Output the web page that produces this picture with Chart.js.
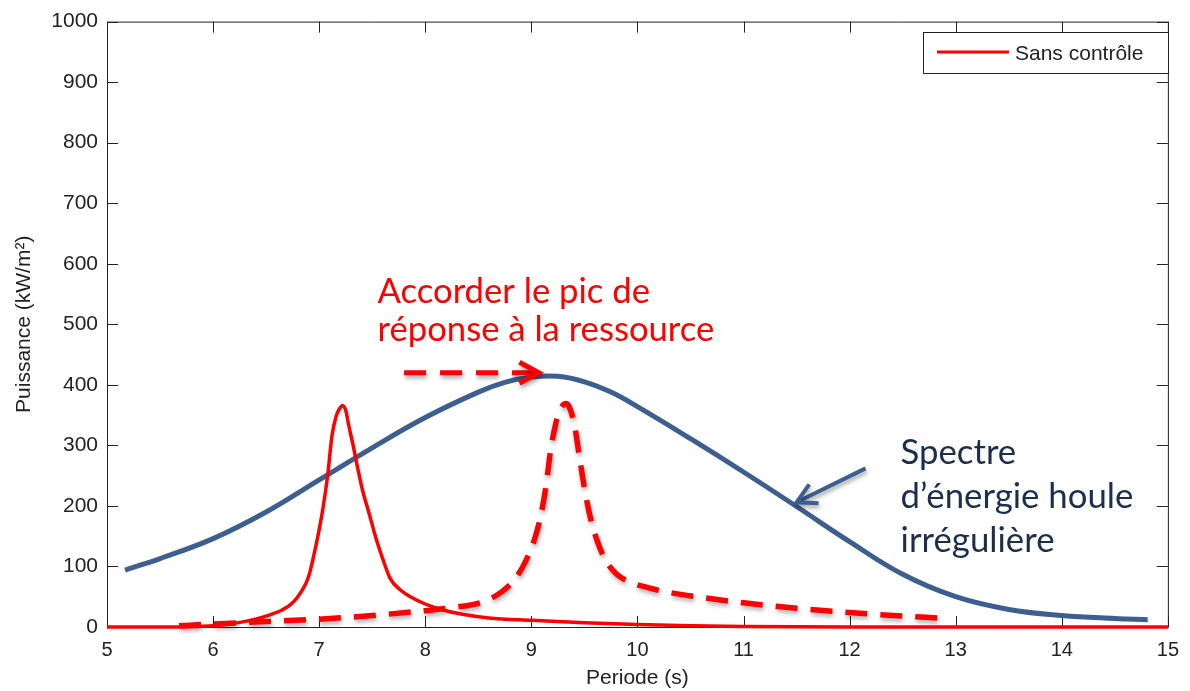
<!DOCTYPE html>
<html lang="fr">
<head>
<meta charset="utf-8">
<title>Puissance en fonction de la période</title>
<script src="https://cdn.jsdelivr.net/npm/chart.js@4/dist/chart.umd.min.js"></script>
<style>
    html, body { margin: 0; padding: 0; background: #fff; }
    #wrap { width: 1190px; height: 691px; }
</style>
</head>
<body>
<div id="wrap"><canvas id="graph" width="1190" height="691"></canvas></div>
<script>
// courbe "Sans contrôle" (rouge plein)
const periodeSansControle = [5.0, 5.5, 6.0, 6.2, 6.4, 6.55, 6.65, 6.75, 6.83, 6.9, 6.97, 7.03, 7.08, 7.12, 7.16, 7.19, 7.22, 7.25, 7.28, 7.32, 7.36, 7.41, 7.47, 7.53, 7.6, 7.67, 7.76, 7.86, 8.0, 8.15, 8.35, 8.6, 9.0, 9.5, 10.0, 10.5, 11.0, 12.0, 13.0, 14.0, 15.0];
const puissanceSansControle = [0, 0, 2, 6, 13, 21, 28, 40, 58, 83, 135, 190, 250, 315, 348, 360, 366, 358, 332, 300, 265, 225, 188, 150, 112, 80, 62, 50, 38, 29, 21, 15, 11, 7, 4, 2, 1, 0, 0, 0, 0];

// réponse accordée (rouge pointillé)
const periodeAccorde = [5.68, 6.0, 6.5, 7.0, 7.5, 8.0, 8.3, 8.55, 8.72, 8.85, 8.95, 9.03, 9.09, 9.14, 9.18, 9.23, 9.28, 9.33, 9.37, 9.41, 9.45, 9.5, 9.56, 9.63, 9.7, 9.8, 9.92, 10.1, 10.3, 10.6, 11.0, 11.5, 12.0, 12.5, 12.83];
const puissanceAccorde = [2, 5, 9, 13, 19, 27, 33, 42, 58, 80, 110, 145, 185, 235, 290, 336, 362, 369, 358, 330, 285, 230, 178, 138, 110, 88, 75, 65, 57, 49, 40, 31, 24, 18, 15];

// spectre d'énergie houle irrégulière (bleu)
const periodeSpectre = [5.17, 5.5, 6.0, 6.5, 7.0, 7.5, 8.0, 8.5, 8.75, 9.0, 9.25, 9.5, 9.75, 10.0, 10.5, 11.0, 11.5, 12.0, 12.5, 13.0, 13.5, 14.0, 14.5, 14.81];
const puissanceSpectre = [94, 113, 146, 190, 243, 296, 346, 388, 404, 413, 414, 405, 388, 364, 311, 256, 199, 141, 87, 50, 29, 19, 14, 12];

const xTicks = [5, 6, 7, 8, 9, 10, 11, 12, 13, 14, 15];
const yTicks = [0, 100, 200, 300, 400, 500, 600, 700, 800, 900, 1000];

const labelLegende = "Sans contrôle";
const texteAccorder = ["Accorder le pic de", "réponse à la ressource"];
const texteSpectre = ["Spectre", "d’énergie houle", "irrégulière"];

const RED = "#ff0000";
const BLUE = "#3d5f8f";
const NAVY = "#1b2f4d";
const AXIS = "#222222";
const TICK_FONT = "'Liberation Sans', Arial, sans-serif";
const NOTE_FONT = "Lato, 'Open Sans', sans-serif";

const points = (xs, ys) => xs.map((x, i) => ({ x, y: ys[i] }));

// fit a text block to a target width by adjusting the font size
const fitFont = (ctx, lines, width) => {
    ctx.font = `40px ${NOTE_FONT}`;
    const widest = Math.max(...lines.map(l => ctx.measureText(l).width));
    return 40 * width / widest;
};

const drawArrow = (ctx, x0, y0, x1, y1, { color, width, dash = [], head = 22, spread = 0.48 }) => {
    const angle = Math.atan2(y1 - y0, x1 - x0);
    ctx.save();
    ctx.shadowColor = "rgba(0,0,0,0.35)";
    ctx.shadowBlur = 4;
    ctx.shadowOffsetX = 1;
    ctx.shadowOffsetY = 3;
    ctx.strokeStyle = color;
    ctx.lineWidth = width;
    ctx.setLineDash(dash);
    ctx.beginPath();
    ctx.moveTo(x0, y0);
    ctx.lineTo(x1 - Math.cos(angle) * 4, y1 - Math.sin(angle) * 4);
    ctx.stroke();
    ctx.setLineDash([]);
    ctx.beginPath();
    ctx.moveTo(x1 - Math.cos(angle - spread) * head, y1 - Math.sin(angle - spread) * head);
    ctx.lineTo(x1, y1);
    ctx.lineTo(x1 - Math.cos(angle + spread) * head, y1 - Math.sin(angle + spread) * head);
    ctx.stroke();
    ctx.restore();
};

// MATLAB style box with inward ticks on the four sides
const frame = {
    id: "frame",
    beforeDatasetsDraw(chart) {
        const { ctx, chartArea: { left, right, top, bottom }, scales: { x, y } } = chart;
        ctx.save();
        ctx.strokeStyle = AXIS;
        ctx.lineWidth = 1;
        ctx.beginPath();
        ctx.rect(left + 0.5, top + 0.5, right - left, bottom - top);
        xTicks.forEach(v => {
            const px = Math.round(x.getPixelForValue(v)) + 0.5;
            ctx.moveTo(px, bottom); ctx.lineTo(px, bottom - 11);
            ctx.moveTo(px, top); ctx.lineTo(px, top + 11);
        });
        yTicks.forEach(v => {
            const py = Math.round(y.getPixelForValue(v)) + 0.5;
            ctx.moveTo(left, py); ctx.lineTo(left + 11, py);
            ctx.moveTo(right, py); ctx.lineTo(right - 11, py);
        });
        ctx.stroke();
        ctx.restore();
    },
    beforeDatasetDraw(chart, args) {
        if (chart.data.datasets[args.index].shadow) {
            const ctx = chart.ctx;
            ctx.save();
            ctx.shadowColor = "rgba(0,0,0,0.3)";
            ctx.shadowBlur = 4;
            ctx.shadowOffsetX = 1;
            ctx.shadowOffsetY = 3;
        }
    },
    afterDatasetDraw(chart, args) {
        if (chart.data.datasets[args.index].shadow) {
            chart.ctx.restore();
        }
    },
    afterDraw(chart) {
        const { ctx, scales: { x, y } } = chart;
        ctx.save();

        // legend box
        const bx = 923, by = 32, bw = 245, bh = 41;
        ctx.fillStyle = "#fff";
        ctx.fillRect(bx, by, bw, bh);
        ctx.strokeStyle = AXIS;
        ctx.lineWidth = 1;
        ctx.strokeRect(bx + 0.5, by + 0.5, bw, bh);
        ctx.strokeStyle = RED;
        ctx.lineWidth = 3;
        ctx.beginPath();
        ctx.moveTo(bx + 14, by + 20);
        ctx.lineTo(bx + 86, by + 20);
        ctx.stroke();
        ctx.fillStyle = AXIS;
        ctx.font = `21px ${TICK_FONT}`;
        ctx.textBaseline = "alphabetic";
        ctx.fillText(labelLegende, bx + 92, by + 28);

        // red note + dashed arrow
        const redSize = fitFont(ctx, texteAccorder, 337);
        ctx.font = `${redSize}px ${NOTE_FONT}`;
        ctx.fillStyle = RED;
        const rx = x.getPixelForValue(7.55), ry = y.getPixelForValue(535);
        texteAccorder.forEach((line, i) => ctx.fillText(line, rx, ry + i * 38));
        drawArrow(ctx, x.getPixelForValue(7.8), y.getPixelForValue(420), x.getPixelForValue(9.07), y.getPixelForValue(420),
            { color: RED, width: 5, dash: [22, 14], head: 22, spread: 0.5 });

        // navy note + arrow
        const navySize = fitFont(ctx, texteSpectre, 233);
        ctx.font = `${navySize}px ${NOTE_FONT}`;
        ctx.fillStyle = NAVY;
        const nx = x.getPixelForValue(12.48), ny = y.getPixelForValue(269);
        texteSpectre.forEach((line, i) => ctx.fillText(line, nx, ny + i * 44));
        drawArrow(ctx, x.getPixelForValue(12.15), y.getPixelForValue(262), x.getPixelForValue(11.5), y.getPixelForValue(206),
            { color: BLUE, width: 4, head: 22, spread: 0.5 });

        ctx.restore();
    },
};

new Chart(document.getElementById("graph"), {
    type: "line",
    data: {
        datasets: [
            {
                label: labelLegende,
                data: points(periodeSansControle, puissanceSansControle),
                borderColor: RED,
                borderWidth: 3.5,
                pointRadius: 0,
                cubicInterpolationMode: "monotone",
                clip: false,
                order: 0,
            },
            {
                label: "Spectre",
                data: points(periodeSpectre, puissanceSpectre),
                borderColor: BLUE,
                borderWidth: 5,
                pointRadius: 0,
                tension: 0.4,
                clip: false,
                order: 1,
            },
            {
                label: "Accordé",
                data: points(periodeAccorde, puissanceAccorde),
                borderColor: RED,
                borderWidth: 5.5,
                borderDash: [22, 13],
                pointRadius: 0,
                cubicInterpolationMode: "monotone",
                clip: false,
                shadow: true,
                order: 2,
            },
        ],
    },
    options: {
        responsive: false,
        animation: false,
        events: [],
        layout: {
            padding: { top: 20, right: 12, left: 0, bottom: 0 },
        },
        plugins: {
            legend: { display: false },
            tooltip: { enabled: false },
        },
        scales: {
            x: {
                type: "linear",
                min: 5,
                max: 15,
                afterFit: (scale) => { scale.height = 64; },
                afterBuildTicks: (scale) => { scale.ticks = xTicks.map(v => ({ value: v })); },
                grid: { display: false, drawTicks: false },
                border: { display: false },
                ticks: {
                    padding: 11,
                    color: AXIS,
                    font: { family: TICK_FONT, size: 20 },
                    callback: (value) => String(value),
                },
                title: {
                    display: true,
                    text: "Periode (s)",
                    color: AXIS,
                    padding: { top: 0, bottom: 0 },
                    font: { family: TICK_FONT, size: 21 },
                },
            },
            y: {
                type: "linear",
                min: 0,
                max: 1000,
                afterFit: (scale) => { scale.width = 107; },
                afterBuildTicks: (scale) => { scale.ticks = yTicks.map(v => ({ value: v })); },
                grid: { display: false, drawTicks: false },
                border: { display: false },
                ticks: {
                    padding: 9,
                    color: AXIS,
                    font: { family: TICK_FONT, size: 21 },
                    callback: (value) => String(value),
                },
                title: {
                    display: true,
                    text: "Puissance (kW/m²)",
                    color: AXIS,
                    padding: { top: 12, bottom: 0 },
                    font: { family: TICK_FONT, size: 21 },
                },
            },
        },
    },
    plugins: [frame],
});
</script>
</body>
</html>
